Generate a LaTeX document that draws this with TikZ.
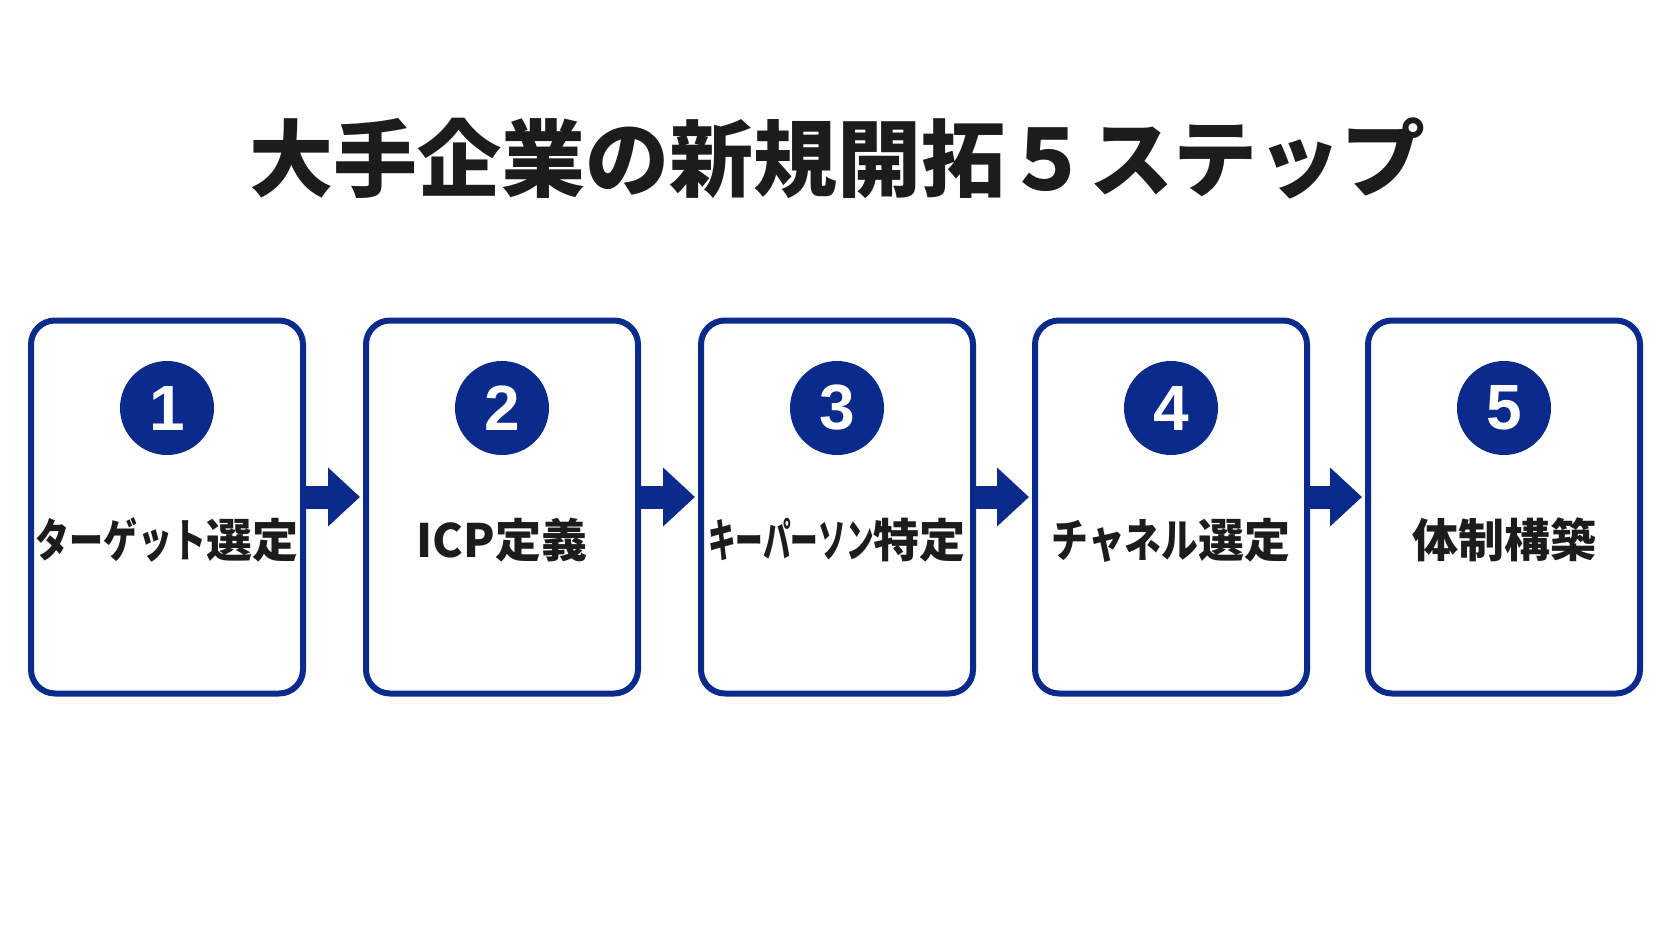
\documentclass[tikz,border=0pt]{standalone}
\usepackage{fontspec}
\usepackage{graphicx}
\usetikzlibrary{arrows.meta, positioning}
\newfontfamily\cjk{Noto Sans CJK JP}
\newfontfamily\numfont{Liberation Sans}
\definecolor{stepnavy}{RGB}{10, 42, 140}
\definecolor{inkblack}{RGB}{28, 28, 28}
\newcommand{\narrow}[2]{\scalebox{#1}[1]{#2}}

\tikzset{
  stepbox/.style={draw=stepnavy, line width=6pt, rounded corners=24pt,
    minimum width=272pt, minimum height=373pt, inner sep=0pt},
  stepnum/.style={circle, fill=stepnavy, minimum size=94pt, inner sep=0pt,
    text=white, font=\numfont\bfseries\fontsize{64}{64}\selectfont},
  steplabel/.style={text=inkblack, font=\cjk\bfseries\fontsize{46}{46}\selectfont},
  flow/.style={stepnavy, line width=23pt, shorten >=3pt,
    -{Triangle[length=32pt, width=57pt]}},
}

\begin{document}
\begin{tikzpicture}[x=1pt, y=-1pt]

  \useasboundingbox (0,0) rectangle (1672,941);

  % --- title ---
  \node[text=inkblack, font=\cjk\bfseries\fontsize{84}{84}\selectfont] (title)
    at (837,158) {大手企業の新規開拓５ステップ};

  % --- the five steps ---
  \foreach \i/\x/\lbl in {
    1/167/\narrow{0.74}{ターゲット}選定,
    2/502/ICP定義,
    3/837/\narrow{0.6}{キーパーソン}特定,
    4/1171/\narrow{0.8}{チャネル}選定,
    5/1504/体制構築}
  {
    \node[stepbox] (box\i) at (\x,507) {};
    \node[stepnum] (num\i) at (\x,408) {\i};
    \node[steplabel] (lbl\i) at (\x,540) {\lbl};
  }

  % --- arrows between steps ---
  \foreach \i/\j in {1/2, 2/3, 3/4, 4/5}
    \draw[flow] ([yshift=10pt]box\i.east) -- ([yshift=10pt]box\j.west);

\end{tikzpicture}
\end{document}
